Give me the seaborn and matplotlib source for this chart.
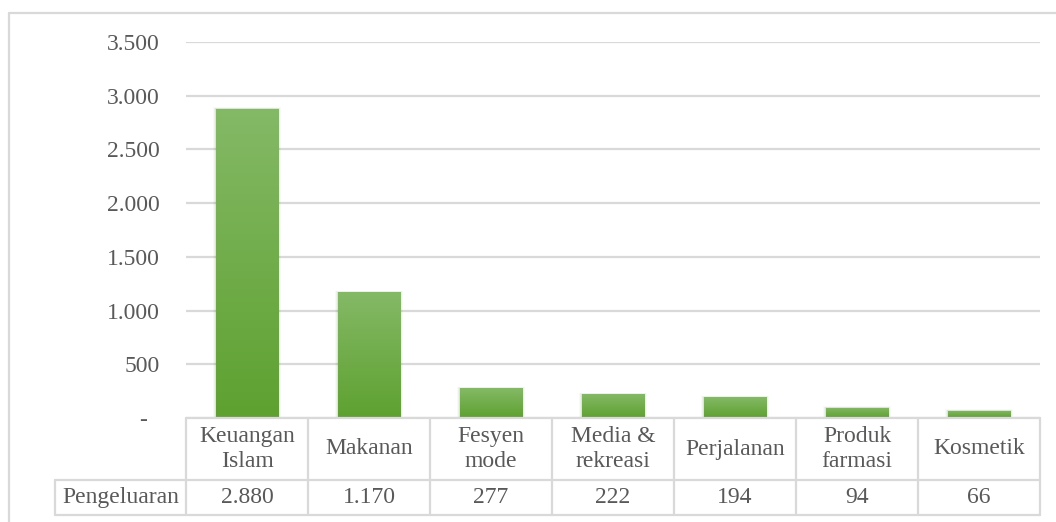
import numpy as np
import matplotlib
matplotlib.use("Agg")
import matplotlib.pyplot as plt
import matplotlib.transforms as mtransforms
import seaborn as sns

# data
categories = ["Keuangan\nIslam", "Makanan", "Fesyen\nmode", "Media &\nrekreasi",
              "Perjalanan", "Produk\nfarmasi", "Kosmetik"]
values = [2880, 1170, 277, 222, 194, 94, 66]
row_label = "Pengeluaran"
y_ticks = [0, 500, 1000, 1500, 2000, 2500, 3000, 3500]

TEXT = "#595959"
GRID = "#D9D9D9"
TOP_GREEN = np.array([0x84, 0xB9, 0x66]) / 255
BOT_GREEN = np.array([0x5E, 0xA1, 0x30]) / 255

sns.set_theme(style="white")
plt.rcParams["font.family"] = ["Liberation Serif", "DejaVu Serif"]
FS = 17


def fmt(v):
    # Excel accounting style: zero shown as a dash
    return "-  " if v == 0 else f"{v:,}".replace(",", ".")


W, H = 1056, 522
AX_TOP, AX_BOT = 42, 418  # pixel rows of the plot area
fig = plt.figure(figsize=(W / 100, H / 100), dpi=100)
ax = fig.add_axes([186 / W, 1 - AX_BOT / H, 854 / W, (AX_BOT - AX_TOP) / H])

n = len(values)
sns.barplot(x=list(range(n)), y=values, color=BOT_GREEN, width=0.51,
            linewidth=0, ax=ax, zorder=3)

# vertical gradient fill on each bar, with a faint soft shadow
grad = np.linspace(0, 1, 256)[:, None]
cols = TOP_GREEN[None, :] * (1 - grad) + BOT_GREEN[None, :] * grad
img = np.repeat(cols[:, None, :], 2, axis=1)
for p in list(ax.patches):
    x0, y0 = p.get_x(), p.get_y()
    w, h = p.get_width(), p.get_height()
    for k, a in enumerate([0.06, 0.04, 0.025]):
        d = 0.008 * (k + 1)
        ax.add_patch(plt.Rectangle((x0 - d, y0), w + 2 * d, h + 5 * (k + 1),
                                   color="black", alpha=a, lw=0, zorder=2))
    im = ax.imshow(img, extent=[x0, x0 + w, y0, y0 + h], aspect="auto",
                   zorder=4, interpolation="bilinear")
    im.set_clip_path(p)
ax.set_xlim(-0.5, n - 0.5)
ax.set_ylim(0, 3500)

ax.set_yticks(y_ticks)
ax.set_yticklabels([fmt(v) for v in y_ticks], color=TEXT, fontsize=FS)
ax.tick_params(axis="y", length=0, pad=19)
ax.set_xticks([])
ax.set_xlabel("")
ax.set_ylabel("")
ax.yaxis.grid(True, color=GRID, linewidth=1.6, zorder=0)
ax.set_axisbelow(True)
for s in ax.spines.values():
    s.set_visible(False)

# data table under the plot: x in category units, y in pixel rows
tr = mtransforms.blended_transform_factory(ax.transData, ax.transAxes)


def ay(px):
    return (AX_BOT - px) / (AX_BOT - AX_TOP)


col_w_px = 854 / n
x_lab = -0.5 - (186 - 55) / col_w_px
ROW1, ROW2, ROW3 = 418, 480, 515
line_kw = dict(color=GRID, lw=1.6, transform=tr, clip_on=False, zorder=5)
ax.plot([-0.5, n - 0.5], [ay(ROW1)] * 2, **line_kw)
ax.plot([x_lab, n - 0.5], [ay(ROW2)] * 2, **line_kw)
ax.plot([x_lab, n - 0.5], [ay(ROW3)] * 2, **line_kw)
ax.plot([x_lab, x_lab], [ay(ROW2), ay(ROW3)], **line_kw)
for i in range(n + 1):
    ax.plot([i - 0.5, i - 0.5], [ay(ROW1), ay(ROW3)], **line_kw)

txt_kw = dict(transform=tr, ha="center", va="center", fontsize=FS, color=TEXT,
              clip_on=False, linespacing=1.2)
for i, (cat, v) in enumerate(zip(categories, values)):
    ax.text(i, ay((ROW1 + ROW2) / 2), cat, **txt_kw)
    ax.text(i, ay((ROW2 + ROW3) / 2), fmt(v), **txt_kw)
ax.text((x_lab - 0.5) / 2, ay((ROW2 + ROW3) / 2), row_label, **txt_kw)

# outer chart border (left and top visible)
fig.add_artist(plt.Line2D([9 / W, 9 / W], [0, 1 - 13 / H], color=GRID, lw=1.6))
fig.add_artist(plt.Line2D([9 / W, 1], [1 - 13 / H, 1 - 13 / H], color=GRID, lw=1.6))

fig.savefig("out.png", dpi=100)
